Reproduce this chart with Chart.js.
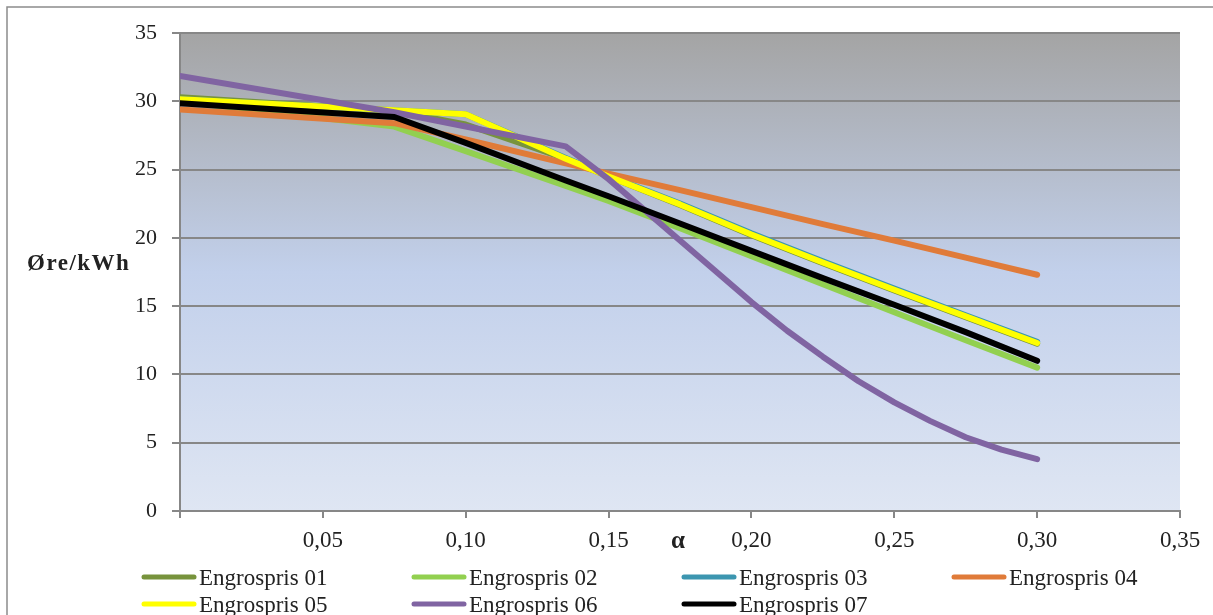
<!DOCTYPE html>
<html lang="no">
  <head>
    <meta charset="UTF-8" />
    <meta name="viewport" content="width=device-width, initial-scale=1.0" />
    <script src="https://cdn.jsdelivr.net/npm/chart.js"></script>
    <title>Engrospris</title>
    <style>
      html,
      body {
        margin: 0;
        padding: 0;
        background: #fff;
      }
    </style>
  </head>
  <body>
    <canvas id="engrosprisChart" width="1213" height="615"></canvas>

    <script>
      const alpha = [0, 0.075, 0.1, 0.135, 0.15, 0.175, 0.2, 0.225, 0.25, 0.275, 0.3];
      // series 06 is curved, so it is read at a finer step
      const alpha06 = [0, 0.075, 0.1, 0.135, 0.15, 0.175, 0.2, 0.2125, 0.225, 0.2375, 0.25, 0.2625, 0.275, 0.2875, 0.3];

      const engros01 = [30.3, 29.3, 28.3, 25.8, 24.5, 22.4, 20.2, 18.15, 16.15, 14.2, 12.25];
      const engros02 = [30.0, 28.15, 26.35, 23.8, 22.7, 20.7, 18.65, 16.6, 14.55, 12.5, 10.5];
      const engros03 = [30.15, 29.35, 29.05, 25.85, 24.55, 22.52, 20.33, 18.28, 16.28, 14.33, 12.38];
      const engros04 = [29.4, 28.4, 27.2, 25.45, 24.7, 23.5, 22.25, 21.0, 19.8, 18.55, 17.3];
      const engros05 = [30.15, 29.35, 29.05, 25.8, 24.5, 22.45, 20.25, 18.2, 16.2, 14.25, 12.3];
      const engros06 = [31.85, 29.2, 28.15, 26.7, 24.3, 19.8, 15.3, 13.2, 11.3, 9.5, 7.95, 6.6, 5.4, 4.5, 3.8];
      const engros07 = [29.85, 28.85, 26.95, 24.2, 23.05, 21.05, 19.05, 17.05, 15.1, 13.1, 11.0];

      const seriesNames = [
        "Engrospris 01",
        "Engrospris 02",
        "Engrospris 03",
        "Engrospris 04",
        "Engrospris 05",
        "Engrospris 06",
        "Engrospris 07",
      ];
      const seriesAlpha = [alpha, alpha, alpha, alpha, alpha, alpha06, alpha];
      const seriesValues = [engros01, engros02, engros03, engros04, engros05, engros06, engros07];
      const seriesColors = ["#77933c", "#92d050", "#3c96b0", "#e07b39", "#ffff00", "#8064a2", "#000000"];

      const xTicks = [0, 0.05, 0.1, 0.15, 0.2, 0.25, 0.3, 0.35];
      const yTicks = [0, 5, 10, 15, 20, 25, 30, 35];

      const gridColor = "#878787";
      const textColor = "#222222";
      const serif = "'Liberation Serif', 'Times New Roman', serif";

      // background, outer frame, axis titles and the legend
      const decorations = {
        id: "decorations",
        beforeDraw(chart) {
          const { ctx, chartArea: a } = chart;
          ctx.save();
          ctx.fillStyle = "#ffffff";
          ctx.fillRect(0, 0, chart.width, chart.height);

          const g = ctx.createLinearGradient(0, a.top, 0, a.bottom);
          g.addColorStop(0, "#a4a4a4");
          g.addColorStop(0.5, "#c2d0eb");
          g.addColorStop(1, "#dfe6f3");
          ctx.fillStyle = g;
          ctx.fillRect(a.left, a.top, a.right - a.left, a.bottom - a.top);

          ctx.strokeStyle = "#8c8c8c";
          ctx.lineWidth = 1.5;
          ctx.strokeRect(7, 7, chart.width + 20, chart.height + 20);
          ctx.restore();
        },
        afterDraw(chart) {
          const { ctx } = chart;
          ctx.save();
          ctx.fillStyle = textColor;
          ctx.textBaseline = "alphabetic";

          ctx.font = "bold 23px " + serif;
          ctx.textAlign = "left";
          if ("letterSpacing" in ctx) ctx.letterSpacing = "1.5px";
          ctx.fillText("Øre/kWh", 27, 270);
          if ("letterSpacing" in ctx) ctx.letterSpacing = "0px";

          ctx.font = "bold 25px " + serif;
          ctx.textAlign = "center";
          ctx.fillText("α", 678, 548);

          ctx.font = "23px " + serif;
          ctx.textAlign = "left";
          chart.data.datasets.forEach((ds, i) => {
            const x = 141 + (i % 4) * 270;
            const y = 577 + Math.floor(i / 4) * 27;
            ctx.strokeStyle = ds.borderColor;
            ctx.lineWidth = 5;
            ctx.lineCap = "round";
            ctx.beginPath();
            ctx.moveTo(x + 3, y);
            ctx.lineTo(x + 53, y);
            ctx.stroke();
            ctx.fillText(ds.label, x + 58, y + 8);
          });
          ctx.restore();
        },
      };

      const ctx = document.getElementById("engrosprisChart").getContext("2d");

      new Chart(ctx, {
        type: "line",
        data: {
          datasets: seriesNames.map((name, i) => ({
            label: name,
            data: seriesAlpha[i].map((a, j) => ({ x: a, y: seriesValues[i][j] })),
            borderColor: seriesColors[i],
            backgroundColor: seriesColors[i],
            borderWidth: 6,
            borderJoinStyle: "round",
            borderCapStyle: "round",
            pointRadius: 0,
            fill: false,
            tension: 0,
            order: seriesNames.length - i,
          })),
        },
        options: {
          responsive: false,
          animation: false,
          events: [],
          layout: {
            padding: { left: 0, top: 33, right: 33, bottom: 0 },
          },
          plugins: {
            legend: { display: false },
            tooltip: { enabled: false },
          },
          scales: {
            x: {
              type: "linear",
              min: 0,
              max: 0.35,
              afterBuildTicks: (scale) => {
                scale.ticks = xTicks.map((v) => ({ value: v }));
              },
              afterFit: (scale) => {
                scale.height = 104;
              },
              grid: {
                drawOnChartArea: false,
                color: gridColor,
                lineWidth: 2,
                tickLength: 7,
              },
              border: { color: gridColor, width: 2 },
              ticks: {
                color: textColor,
                font: { family: serif, size: 23 },
                padding: 9,
                maxRotation: 0,
                autoSkip: false,
                callback: (v) => (v === 0 ? "" : v.toFixed(2).replace(".", ",")),
              },
            },
            y: {
              min: 0,
              max: 35,
              afterBuildTicks: (scale) => {
                scale.ticks = yTicks.map((v) => ({ value: v }));
              },
              afterFit: (scale) => {
                scale.width = 180;
              },
              grid: {
                color: gridColor,
                lineWidth: 2,
                tickLength: 8,
              },
              border: { color: gridColor, width: 2 },
              ticks: {
                color: textColor,
                font: { family: serif, size: 22 },
                padding: 15,
              },
            },
          },
        },
        plugins: [decorations],
      });
    </script>
  </body>
</html>
